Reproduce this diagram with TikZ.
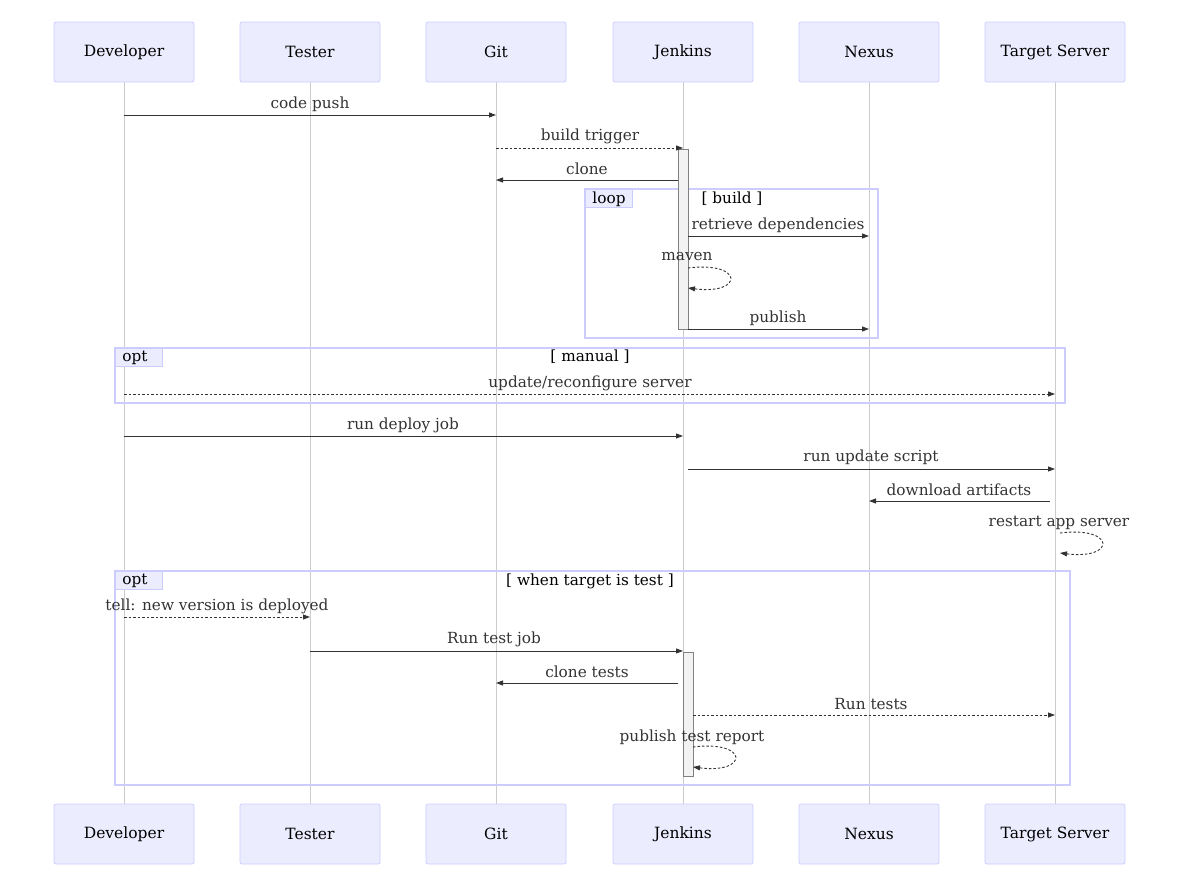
\documentclass[tikz,border=0pt]{standalone}
\usepackage{fontspec}
\setmainfont{DejaVu Serif}
\usetikzlibrary{arrows.meta}
\definecolor{actfill}{HTML}{ECECFF}
\definecolor{actline}{HTML}{CCCCFF}
\definecolor{txt}{HTML}{333333}
\begin{document}
\begin{tikzpicture}[x=1pt,y=-1pt,
  actor/.style={draw=actline,fill=actfill,rounded corners=2pt,minimum width=140pt,minimum height=60pt,font=\fontsize{15.5}{17}\selectfont,text=black,line width=0.7pt},
  life/.style={draw=black!20,line width=0.8pt},
  msg/.style={draw=txt,line width=0.9pt,-{Triangle[length=7pt,width=5pt]}},
  dmsg/.style={msg,dash pattern=on 2.5pt off 2pt},
  lab/.style={font=\fontsize{15.3}{17}\selectfont,text=txt,inner sep=0pt},
  frame/.style={draw=actline,line width=1.4pt},
  tab/.style={fill=actfill,draw=actline,line width=0.6pt},
  act/.style={draw=black!50,fill=black!5,line width=0.6pt}]
\useasboundingbox (0,0) rectangle (1200,878);
\foreach \x/\n/\t in {124/a/Developer,310/b/Tester,496/c/Git,683/d/Jenkins,869/e/Nexus,1055/f/Target Server}{
  \draw[life] (\x,82) -- (\x,804);
  \node[actor] (\n top) at (\x,52) {\t};
  \node[actor] (\n bot) at (\x,834) {\t};
}
% loop frame
\draw[frame] (585,189) rectangle (878,338);
\draw[tab] (585,189) rectangle (632,207);
\node[lab,text=black] at (609,199) {loop};
\node[lab,text=black] at (732,199) {[ build ]};
% opt 1
\draw[frame] (115,348) rectangle (1065,403);
\draw[tab] (115,348) rectangle (162,366);
\node[lab,text=black] at (135,358) {opt};
\node[lab,text=black] at (590,357) {[ manual ]};
% opt 2
\draw[frame] (115,571) rectangle (1070,785);
\draw[tab] (115,571) rectangle (162,589);
\node[lab,text=black] at (135,581) {opt};
\node[lab,text=black] at (590,581) {[ when target is test ]};
% activations
\draw[act] (678,149) rectangle (688,329);
\draw[act] (683,652) rectangle (693,776);
% messages
\draw[msg] (124,115) -- (496,115); \node[lab] at (310,104) {code push};
\draw[dmsg] (496,148) -- (683,148); \node[lab] at (590,136) {build trigger};
\draw[msg] (678,180) -- (496,180); \node[lab] at (587,169) {clone};
\draw[msg] (688,236) -- (869,236); \node[lab] at (778,225) {retrieve dependencies};
\draw[dmsg] (688,268) .. controls (744,261) and (744,295) .. (688,288); \node[lab] at (687,257) {maven};
\draw[msg] (688,329) -- (869,329); \node[lab] at (778,318) {publish};
\draw[dmsg] (124,394) -- (1055,394); \node[lab] at (590,383) {update/reconfigure server};
\draw[msg] (124,436) -- (683,436); \node[lab] at (403,425) {run deploy job};
\draw[msg] (688,469) -- (1055,469); \node[lab] at (871,457) {run update script};
\draw[msg] (1050,501) -- (869,501); \node[lab] at (959,490) {download artifacts};
\draw[dmsg] (1060,533) .. controls (1116,526) and (1116,560) .. (1060,553); \node[lab] at (1059,523) {restart app server};
\draw[dmsg] (124,617) -- (310,617); \node[lab] at (217,606) {tell: new version is deployed};
\draw[msg] (310,651) -- (683,651); \node[lab] at (494,639) {Run test job};
\draw[msg] (678,683) -- (496,683); \node[lab] at (587,672) {clone tests};
\draw[dmsg] (693,715) -- (1055,715); \node[lab] at (871,704) {Run tests};
\draw[dmsg] (693,747) .. controls (749,740) and (749,774) .. (693,767); \node[lab] at (692,737) {publish test report};
\end{tikzpicture}
\end{document}
